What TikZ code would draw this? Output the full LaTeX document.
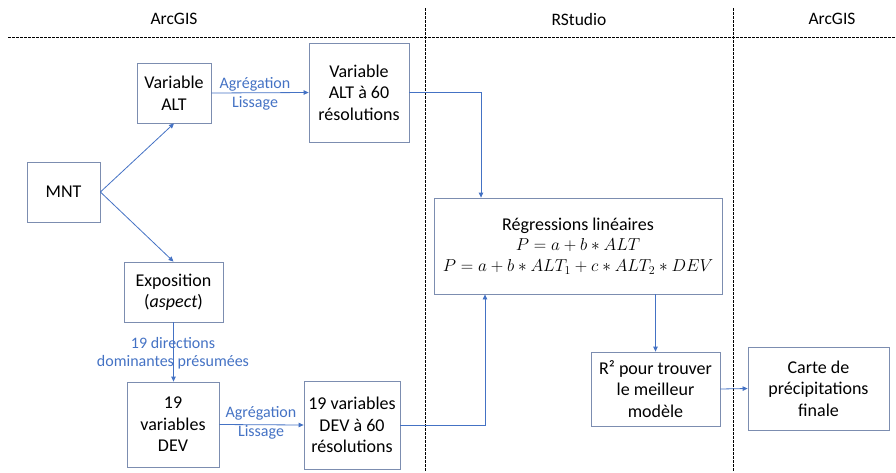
\documentclass[tikz,border=0pt]{standalone}
\usepackage{fontspec}
\setmainfont{Carlito}
\usetikzlibrary{arrows.meta}
\definecolor{boxc}{RGB}{124,141,176}
\definecolor{linec}{RGB}{68,114,196}
\begin{document}
\begin{tikzpicture}[x=1pt,y=-1pt,
  box/.style={draw=boxc,line width=0.8pt,rectangle,inner sep=0pt,align=center,font=\fontsize{18}{21.5}\selectfont},
  conn/.style={draw=linec,line width=0.8pt,-{Triangle[length=5pt,width=4.5pt]}},
  lbl/.style={text=linec,font=\fontsize{16}{19}\selectfont,inner sep=0pt,align=center},
  hdr/.style={font=\fontsize{17.5}{21}\selectfont,inner sep=0pt},
  sep/.style={draw=black,line width=1pt,dash pattern=on 2.5pt off 1.5pt}]
\useasboundingbox (0,0) rectangle (896,472);
% separators
\coordinate (h1) at (8,37);
\coordinate (h2) at (896,37);
\coordinate (v1t) at (425,8);
\coordinate (v1b) at (425,472);
\coordinate (v2t) at (733,8);
\coordinate (v2b) at (733,472);
\draw[sep] (h1) -- (h2);
\draw[sep] (v1t) -- (v1b);
\draw[sep] (v2t) -- (v2b);
% headers
\node[hdr] (t1) at (174,19) {ArcGIS};
\node[hdr] (t2) at (579,19) {RStudio};
\node[hdr] (t3) at (832,19) {ArcGIS};
% boxes
\node[box,minimum width=73pt,minimum height=60pt] (mnt) at (63.5,192) {MNT};
\node[box,minimum width=74pt,minimum height=60pt] (valt) at (174,93) {Variable\\ALT};
\node[box,minimum width=100pt,minimum height=99pt] (valt60) at (359,92.5) {Variable\\ALT à 60\\résolutions};
\node[box,minimum width=99pt,minimum height=60pt] (expo) at (173.5,292) {Exposition\\(\textit{aspect})};
\node[box,minimum width=92pt,minimum height=85pt] (dev) at (173,424.5) {19\\variables\\DEV};
\node[box,minimum width=96pt,minimum height=88pt] (dev60) at (352,425) {19 variables\\DEV à 60\\résolutions};
\node[box,minimum width=288pt,minimum height=96pt] (reg) at (578,246) {Régressions linéaires\\[-1pt]
  $P = a + b \ast ALT$\\[-1pt]
  $P = a + b \ast ALT_1 + c \ast ALT_2 \ast DEV$};
\node[box,minimum width=129pt,minimum height=74pt] (r2) at (655.5,389) {R² pour trouver\\le meilleur\\modèle};
\node[box,minimum width=141pt,minimum height=83pt] (carte) at (818.5,388.5) {Carte de\\précipitations\\finale};
% connectors
\draw[conn] (mnt.east) -- (valt.south);
\draw[conn] (mnt.east) -- (expo.north);
\draw[conn] (valt.east) -- (valt60.west);
\draw[conn] (valt60.east) -| ([xshift=-97pt]reg.north);
\draw[conn] (expo.south) -- (expo.south |- dev.north);
\draw[conn] (dev.east) -- (dev60.west);
\draw[conn] (dev60.east) -| ([xshift=-93pt]reg.south);
\draw[conn] (r2.north |- reg.south) -- (r2.north);
\draw[conn] (r2.east) -- (carte.west);
% labels
\node[lbl] (l1) at (255,84) {Agrégation};
\node[lbl] (l2) at (255,103) {Lissage};
\node[lbl] (l3) at (261,413) {Agrégation};
\node[lbl] (l4) at (261,432) {Lissage};
\node[lbl] (l5) at (173,343) {19 directions};
\node[lbl] (l6) at (173,362) {dominantes présumées};
\end{tikzpicture}
\end{document}
